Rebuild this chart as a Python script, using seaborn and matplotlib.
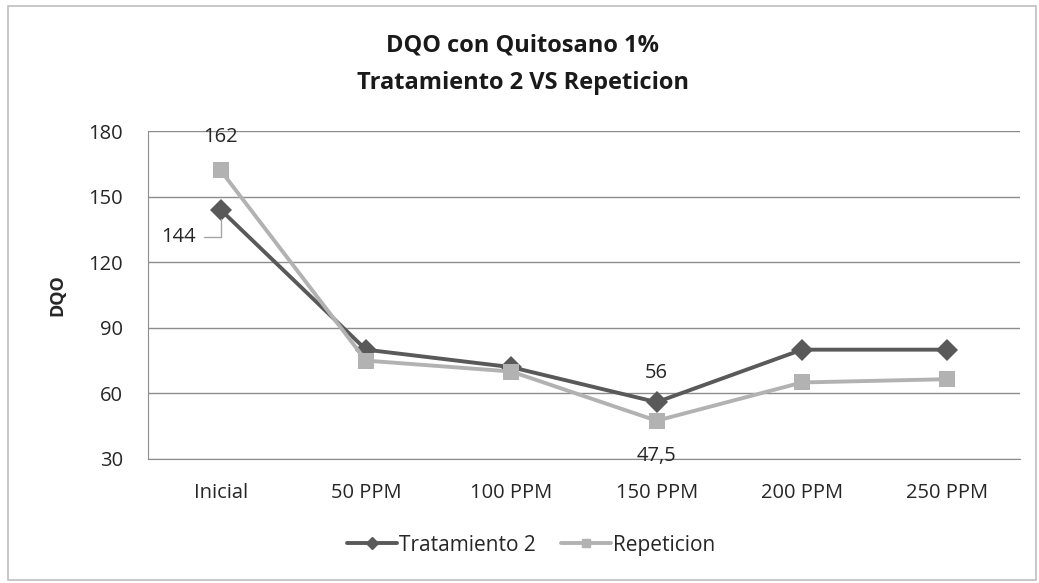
import pandas as pd
import matplotlib.pyplot as plt
import matplotlib.patches as mpatches
import seaborn as sns

categorias = ["Inicial", "50 PPM", "100 PPM", "150 PPM", "200 PPM", "250 PPM"]
tratamiento_2 = [144, 80, 72, 56, 80, 80]
repeticion = [162, 75, 70, 47.5, 65, 66.5]

data = pd.DataFrame({
    "Dosis": categorias * 2,
    "DQO": tratamiento_2 + repeticion,
    "Serie": ["Tratamiento 2"] * len(categorias) + ["Repeticion"] * len(categorias),
})

sns.set_style("white")
plt.rcParams["font.family"] = ["Open Sans", "DejaVu Sans"]

fig = plt.figure(figsize=(10.39, 5.83), dpi=100)
ax = fig.add_axes([0.1424, 0.2127, 0.8393, 0.5626])

colores = {"Tratamiento 2": "#595959", "Repeticion": "#b2b2b2"}
sns.lineplot(data=data, x="Dosis", y="DQO", hue="Serie", style="Serie",
             markers={"Tratamiento 2": "D", "Repeticion": "s"}, dashes=False,
             palette=colores, sort=False, linewidth=2.8, markersize=11,
             markeredgewidth=0, ax=ax, legend=False)

ax.set_xlim(-0.5, 5.5)
ax.set_ylim(30, 180)
ax.set_yticks([30, 60, 90, 120, 150, 180])
ax.grid(axis="y", color="#8c8c8c", linewidth=1)
ax.set_axisbelow(True)
for lado in ["top", "right"]:
    ax.spines[lado].set_visible(False)
ax.spines["left"].set_color("#8c8c8c")
ax.spines["bottom"].set_color("#8c8c8c")
ax.tick_params(axis="both", length=0, labelsize=14.5, colors="#262626")
ax.tick_params(axis="y", pad=18)
ax.tick_params(axis="x", pad=17)
ax.set_xlabel("")
ax.set_ylabel("DQO", fontsize=13, fontweight="bold", labelpad=16)

# etiquetas de datos
ax.annotate("162", (0, repeticion[0]), xytext=(0, 17), textcoords="offset points",
            ha="center", va="bottom", fontsize=14.5, color="#262626")
ax.annotate("144", (0, tratamiento_2[0]), xytext=(-30, -20), textcoords="offset points",
            ha="center", va="center", fontsize=14.5, color="#262626",
            arrowprops=dict(arrowstyle="-", color="#a6a6a6", lw=1, relpos=(1, 0.5),
                            connectionstyle="angle,angleA=0,angleB=90,rad=0",
                            shrinkA=3, shrinkB=7))
ax.annotate("56", (3, tratamiento_2[3]), xytext=(0, 14), textcoords="offset points",
            ha="center", va="bottom", fontsize=14.5, color="#262626")
ax.annotate("47,5", (3, repeticion[3]), xytext=(0, -18), textcoords="offset points",
            ha="center", va="top", fontsize=14.5, color="#262626")

fig.text(0.503, 0.922, "DQO con Quitosano 1%", ha="center", va="center",
         fontsize=17, fontweight="bold", color="#1a1a1a")
fig.text(0.503, 0.857, "Tratamiento 2 VS Repeticion", ha="center", va="center",
         fontsize=17, fontweight="bold", color="#1a1a1a")

manejadores = [
    plt.Line2D([], [], color=colores["Tratamiento 2"], marker="D", markersize=6, lw=2.8),
    plt.Line2D([], [], color=colores["Repeticion"], marker="s", markersize=6, lw=2.8),
]
fig.legend(manejadores, ["Tratamiento 2", "Repeticion"], loc="center",
           bbox_to_anchor=(0.511, 0.065), ncol=2, frameon=False, fontsize=15,
           handlelength=2.4, handletextpad=0.1, columnspacing=1.2)

fig.patches.append(mpatches.Rectangle((0.008, 0.005), 0.989, 0.985, transform=fig.transFigure,
                                      fill=False, edgecolor="#bfbfbf", linewidth=1.2))

plt.savefig("out.png", dpi=100)
